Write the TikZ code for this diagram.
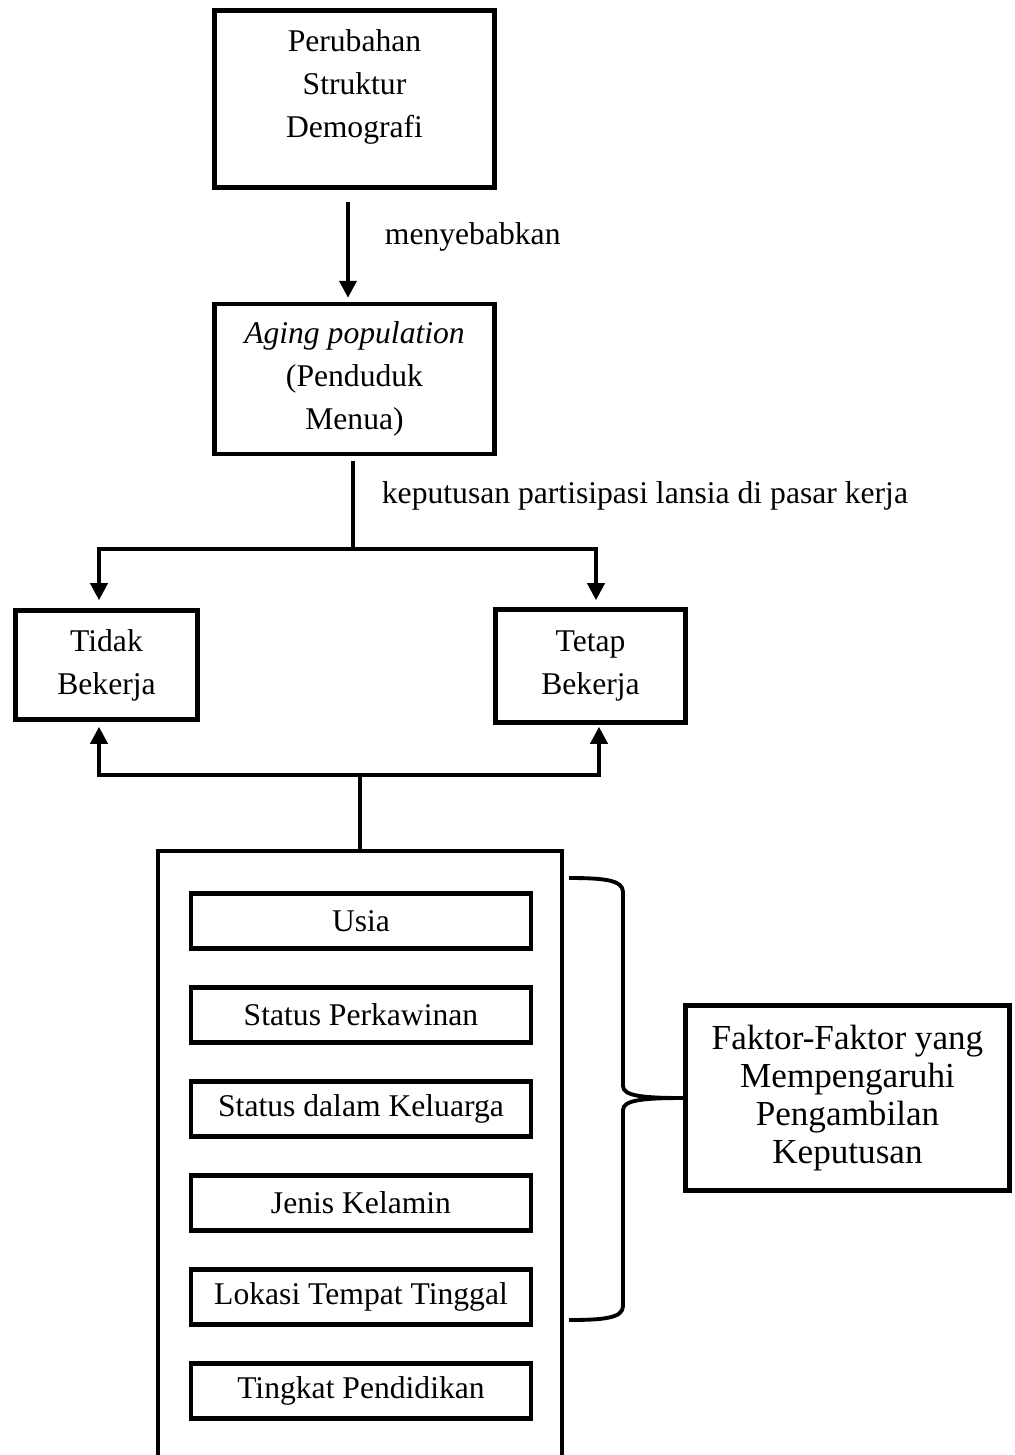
\documentclass[tikz,border=0pt]{standalone}
\usepackage{fontspec}
\setmainfont{Liberation Serif}
\usetikzlibrary{positioning,arrows.meta,calc}

\begin{document}
\begin{tikzpicture}[x=0.02cm,y=-0.02cm,>={Triangle[length=3.4mm,width=3.4mm]},node distance=0.69cm,
  box/.style={draw,line width=2.6pt,align=center,inner sep=0pt,font=\fontsize{18}{24.5}\selectfont},
  itembox/.style={box,minimum width=6.8cm,minimum height=1.1cm},
  conn/.style={line width=2.2pt},
  lbl/.style={inner sep=0pt,font=\fontsize{18}{24.5}\selectfont}]
\useasboundingbox (0,0) rectangle (1015,1455);
\clip (0,0) rectangle (1015,1455);
\node[box,minimum width=5.6cm,minimum height=3.54cm] (demo) at (354.5,99)
  {\begin{tabular}{@{}c@{}}Perubahan\\Struktur\\Demografi\\[0.52cm]\end{tabular}};
\node[box,minimum width=5.6cm,minimum height=3cm,below=2.24cm of demo] (aging)
  {\textit{Aging population}\\(Penduduk\\Menua)};
\node[box,minimum width=3.64cm,minimum height=2.18cm] (tidak) at (106.5,665) {Tidak\\Bekerja};
\node[box,minimum width=3.8cm,minimum height=2.26cm] (tetap) at (590.5,666) {Tetap\\Bekerja};
\node[draw,line width=2.3pt,minimum width=8.1cm,minimum height=13cm,anchor=north] (wadah) at (360,849) {};
\node[itembox] (usia) at (361,921) {Usia};
\node[itembox,below=of usia] (kawin) {Status Perkawinan};
\node[itembox,below=of kawin] (keluarga) {Status dalam Keluarga};
\node[itembox,below=of keluarga] (kelamin) {Jenis Kelamin};
\node[itembox,below=of kelamin] (lokasi) {Lokasi Tempat Tinggal};
\node[itembox,below=of lokasi] (didik) {Tingkat Pendidikan};
\node[box,minimum width=6.48cm,minimum height=3.7cm,font=\fontsize{20}{21.5}\selectfont] (faktor) at (847.5,1098)
  {Faktor-Faktor yang\\Mempengaruhi\\Pengambilan\\Keputusan};
\draw[conn,->] ($(demo.south)+(-6.5,12)$) -- ($(aging.north)+(-6.5,-4)$)
  node[lbl,pos=0.37,right=0.7cm] (sebab) {menyebabkan};
\coordinate (cabang1) at (353,549);
\draw[conn] ($(aging.south)+(-1.5,5)$) -- (cabang1)
  node[lbl,pos=0.4,right=0.54cm] (putusan) {keputusan partisipasi lansia di pasar kerja};
\draw[conn,->] (cabang1) -| ($(tidak.north)+(-7.5,-8)$);
\draw[conn,->] (cabang1) -| ($(tetap.north)+(5.5,-7)$);
\coordinate (cabang2) at (360,775);
\draw[conn] (wadah.north) -- (cabang2);
\draw[conn,->] (cabang2) -| ($(tidak.south)+(-7.5,5)$);
\draw[conn,->] (cabang2) -| ($(tetap.south)+(8.5,2)$);
% kurung kurawal ke kotak faktor
\coordinate (kurungatas) at (569,878);
\coordinate (kurungbawah) at (569,1320);
\draw[conn] (kurungatas) .. controls +(35,0) and +(0,-12) .. (623,892) -- (623,1086)
  .. controls +(0,10) and +(-40,0) .. (faktor.west)
  .. controls +(-40,0) and +(0,-10) .. (623,1110) -- (623,1306)
  .. controls +(0,12) and +(35,0) .. (kurungbawah);
\end{tikzpicture}
\end{document}
